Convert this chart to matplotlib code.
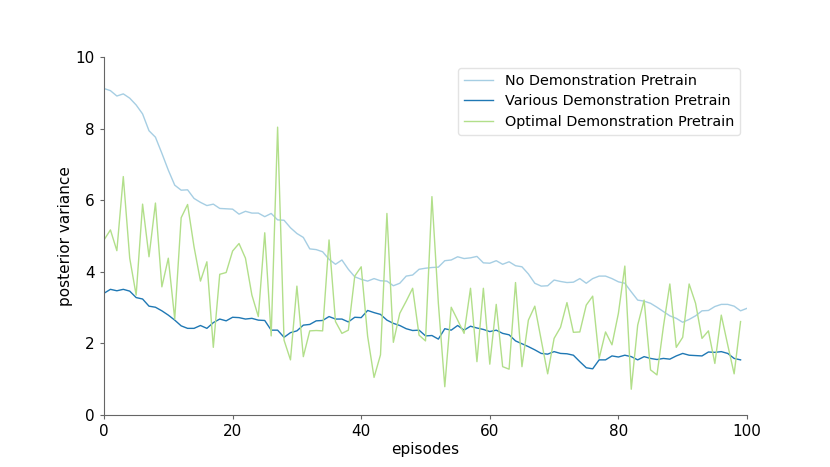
import matplotlib
matplotlib.use("Agg")
import matplotlib.pyplot as plt
import numpy as np

no_demo = [9.12, 9.06, 8.91, 8.97, 8.85, 8.66, 8.41, 7.94, 7.76, 7.31,
           6.84, 6.42, 6.28, 6.29, 6.05, 5.94, 5.85, 5.89, 5.77, 5.76,
           5.75, 5.61, 5.69, 5.64, 5.64, 5.54, 5.63, 5.45, 5.44, 5.23,
           5.07, 4.96, 4.64, 4.62, 4.56, 4.35, 4.21, 4.33, 4.07, 3.86,
           3.79, 3.74, 3.81, 3.75, 3.74, 3.61, 3.68, 3.88, 3.91, 4.07,
           4.10, 4.12, 4.13, 4.31, 4.33, 4.42, 4.37, 4.39, 4.43, 4.25,
           4.24, 4.31, 4.21, 4.28, 4.17, 4.14, 3.94, 3.68, 3.60, 3.61,
           3.77, 3.73, 3.70, 3.71, 3.81, 3.68, 3.81, 3.88, 3.88, 3.81,
           3.72, 3.68, 3.44, 3.21, 3.18, 3.12, 3.01, 2.89, 2.77, 2.70,
           2.59, 2.67, 2.77, 2.91, 2.92, 3.03, 3.09, 3.09, 3.04, 2.91,
           2.98]

various_demo = [3.40, 3.51, 3.47, 3.51, 3.46, 3.28, 3.24, 3.04, 3.01, 2.91,
                2.79, 2.65, 2.49, 2.42, 2.42, 2.50, 2.42, 2.58, 2.68, 2.63,
                2.73, 2.72, 2.68, 2.70, 2.65, 2.64, 2.37, 2.37, 2.17, 2.30,
                2.35, 2.51, 2.53, 2.63, 2.64, 2.75, 2.68, 2.68, 2.60, 2.73,
                2.72, 2.92, 2.86, 2.81, 2.65, 2.56, 2.50, 2.41, 2.36, 2.37,
                2.21, 2.22, 2.12, 2.41, 2.37, 2.50, 2.37, 2.48, 2.43, 2.39,
                2.33, 2.37, 2.28, 2.24, 2.07, 1.99, 1.91, 1.82, 1.72, 1.70,
                1.77, 1.72, 1.71, 1.67, 1.49, 1.32, 1.29, 1.54, 1.54, 1.65,
                1.62, 1.67, 1.63, 1.54, 1.63, 1.58, 1.55, 1.58, 1.56, 1.65,
                1.72, 1.67, 1.66, 1.65, 1.76, 1.75, 1.77, 1.72, 1.58, 1.54]

optimal_demo = [4.89, 5.17, 4.59, 6.66, 4.38, 3.35, 5.89, 4.42, 5.92, 3.58,
                4.38, 2.68, 5.51, 5.88, 4.70, 3.74, 4.28, 1.89, 3.93, 3.98,
                4.58, 4.79, 4.38, 3.35, 2.75, 5.09, 2.21, 8.04, 2.09, 1.54,
                3.60, 1.63, 2.35, 2.36, 2.35, 4.89, 2.61, 2.28, 2.37, 3.88,
                4.14, 2.20, 1.05, 1.68, 5.63, 2.03, 2.84, 3.18, 3.54, 2.23,
                2.07, 6.10, 3.12, 0.79, 3.01, 2.65, 2.28, 3.54, 1.49, 3.54,
                1.42, 3.09, 1.35, 1.28, 3.70, 1.35, 2.65, 3.04, 2.09, 1.15,
                2.14, 2.45, 3.14, 2.31, 2.32, 3.07, 3.32, 1.58, 2.32, 1.96,
                2.84, 4.16, 0.72, 2.51, 3.21, 1.26, 1.12, 2.47, 3.66, 1.89,
                2.17, 3.66, 3.12, 2.14, 2.35, 1.44, 2.79, 1.96, 1.15, 2.61]

labels = ["No Demonstration Pretrain", "Various Demonstration Pretrain",
          "Optimal Demonstration Pretrain"]
colors = ["#a6cee3", "#1f78b4", "#b2df8a"]

fig = plt.figure(figsize=(8.3, 4.67), dpi=100)
ax = fig.add_axes([104/830, 52/467, (747-104)/830, (415-57)/467])

ax.plot(np.arange(len(no_demo)), no_demo, color=colors[0], lw=1.0, label=labels[0])
ax.plot(np.arange(len(various_demo)), various_demo, color=colors[1], lw=1.0, label=labels[1])
ax.plot(np.arange(len(optimal_demo)), optimal_demo, color=colors[2], lw=1.0, label=labels[2])

ax.set_xlim(0, 100)
ax.set_ylim(0, 10)
ax.set_xticks([0, 20, 40, 60, 80, 100])
ax.set_yticks([0, 2, 4, 6, 8, 10])
ax.set_xlabel("episodes", fontsize=11, labelpad=2)
ax.set_ylabel("posterior variance", fontsize=11, labelpad=2)
ax.tick_params(labelsize=11, length=3, color="#666666")
for s in ["top", "right"]:
    ax.spines[s].set_visible(False)
for s in ["left", "bottom"]:
    ax.spines[s].set_color("#666666")

leg = ax.legend(loc="upper right", fontsize=10.4, frameon=True,
                bbox_to_anchor=(1.0, 0.99), handlelength=2.0,
                labelspacing=0.47)
leg.get_frame().set_edgecolor("#dddddd")

fig.savefig("out.png", dpi=100)
